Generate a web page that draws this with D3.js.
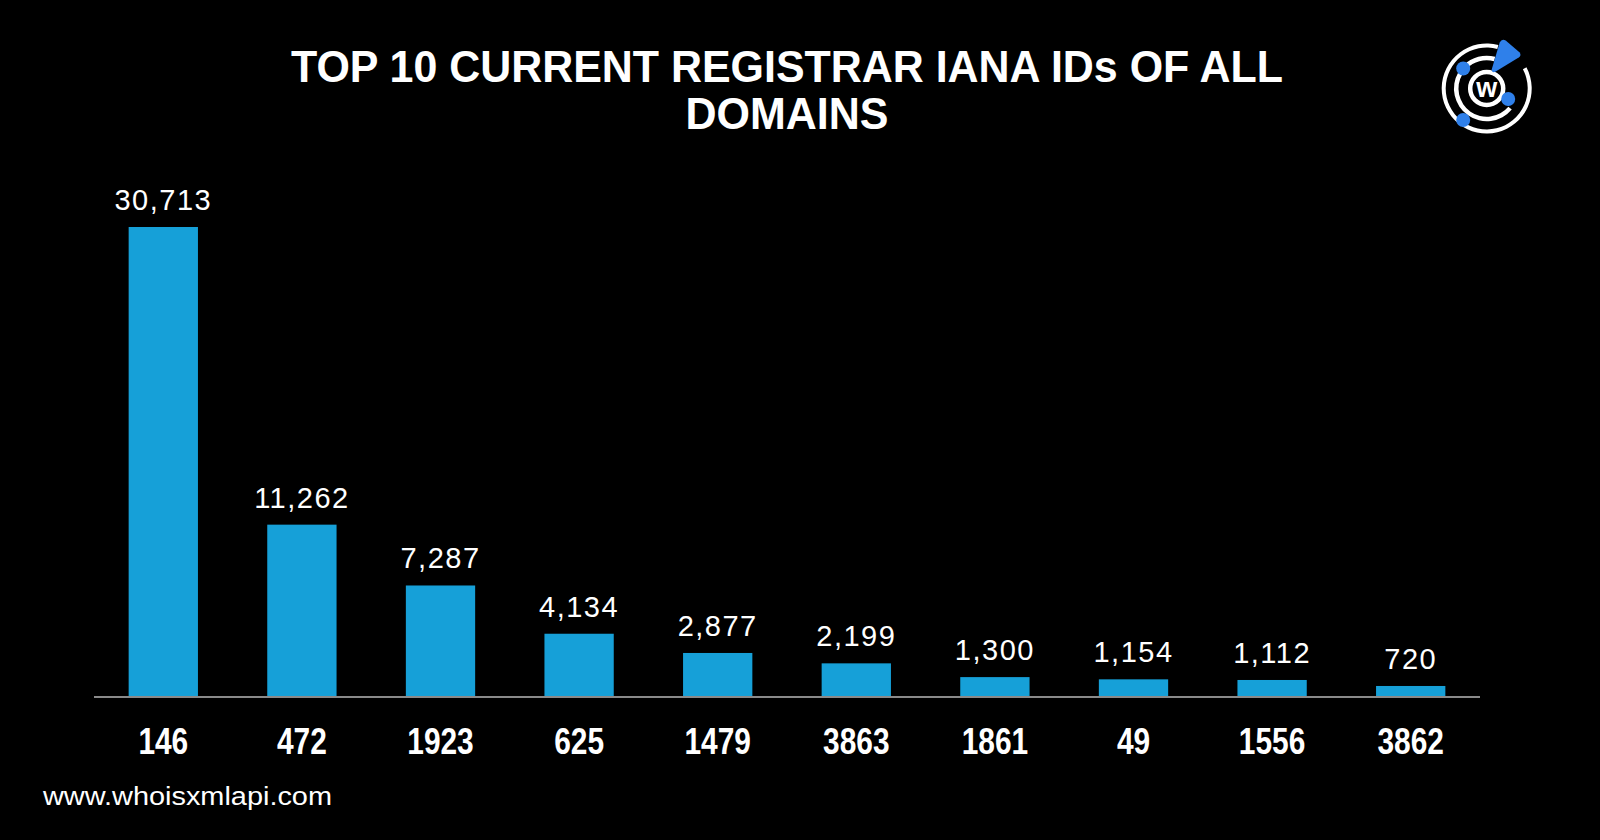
<!DOCTYPE html>
<html>
<head>
<meta charset="utf-8">
<script src="https://cdn.jsdelivr.net/npm/d3@7"></script>
<style>
  html, body { margin: 0; padding: 0; background: #000; }
  svg { display: block; }
</style>
</head>
<body>
<svg id="chart" width="1600" height="840"></svg>
<script>
const categories = ["146", "472", "1923", "625", "1479", "3863", "1861", "49", "1556", "3862"];
const values = [30713, 11262, 7287, 4134, 2877, 2199, 1300, 1154, 1112, 720];
const titleLines = ["TOP 10 CURRENT REGISTRAR IANA IDs OF ALL", "DOMAINS"];
const footerText = "www.whoisxmlapi.com";

const data = categories.map((c, i) => ({ cat: c, val: values[i] }));
const svg = d3.select("#chart");
svg.append("rect").attr("width", 1600).attr("height", 840).attr("fill", "#000");

const x = d3.scaleBand().domain(categories).range([94, 1480]).paddingInner(0.5).paddingOuter(0.25);
const y = d3.scaleLinear().domain([0, d3.max(values)]).range([697, 227]);

// bars
svg.append("g").selectAll("rect").data(data).join("rect")
  .attr("x", d => x(d.cat))
  .attr("y", d => y(d.val))
  .attr("width", x.bandwidth())
  .attr("height", d => y(0) - y(d.val))
  .attr("fill", "#16a0d8");

// baseline axis
const axis = svg.append("g").attr("transform", `translate(0,${y(0)})`)
  .call(d3.axisBottom(x).tickSize(0).tickPadding(40));
axis.select(".domain").attr("stroke", "#8a8a8a").attr("stroke-width", 2)
  .attr("d", `M94,0H1480`);
axis.selectAll(".tick text")
  .attr("fill", "#fff")
  .attr("font-family", "'Liberation Sans', Arial, sans-serif")
  .attr("font-weight", "bold")
  .attr("font-size", 36)
  .attr("dy", "0.72em")
  .attr("y", 31)
  .each(function () {
    const w = this.getComputedTextLength();
    d3.select(this).attr("textLength", w * 0.83).attr("lengthAdjust", "spacingAndGlyphs");
  });

// value labels
svg.append("g").selectAll("text").data(data).join("text")
  .attr("x", d => x(d.cat) + x.bandwidth() / 2)
  .attr("y", d => y(d.val) - 17)
  .attr("text-anchor", "middle")
  .attr("fill", "#fff")
  .attr("font-family", "'Liberation Sans', Arial, sans-serif")
  .attr("font-size", 29)
  .attr("letter-spacing", 1.5)
  .text(d => d3.format(",")(d.val));

// title
const title = svg.append("g");
title.append("text")
  .attr("x", 787).attr("y", 82)
  .attr("text-anchor", "middle")
  .attr("fill", "#fff")
  .attr("font-family", "'Liberation Sans', Arial, sans-serif")
  .attr("font-weight", "bold")
  .attr("font-size", 45)
  .attr("textLength", 992).attr("lengthAdjust", "spacingAndGlyphs")
  .text(titleLines[0]);
title.append("text")
  .attr("x", 787).attr("y", 129)
  .attr("text-anchor", "middle")
  .attr("fill", "#fff")
  .attr("font-family", "'Liberation Sans', Arial, sans-serif")
  .attr("font-weight", "bold")
  .attr("font-size", 45)
  .attr("textLength", 203).attr("lengthAdjust", "spacingAndGlyphs")
  .text(titleLines[1]);

// footer
svg.append("text")
  .attr("x", 43).attr("y", 805)
  .attr("fill", "#fff")
  .attr("font-family", "'Liberation Sans', Arial, sans-serif")
  .attr("font-size", 26)
  .attr("textLength", 289).attr("lengthAdjust", "spacingAndGlyphs")
  .text(footerText);

// logo
const logo = svg.append("g").attr("transform", "translate(1486.7,88.5)");
const blue = "#2f80ea";
const arc = d3.arc();
const deg = Math.PI / 180;
function ring(r, a0, a1, w) {
  logo.append("path")
    .attr("d", arc({ innerRadius: r - w / 2, outerRadius: r + w / 2, startAngle: a0 * deg, endAngle: a1 * deg }))
    .attr("fill", "#fff");
}
ring(43, 62, 375, 4);
ring(30.5, 130, 300, 4.5);
ring(30.5, -45, 15, 4.5);
ring(16.5, 0, 360, 4.5);
logo.append("text").attr("x", 0).attr("y", 8).attr("text-anchor", "middle")
  .attr("fill", "#fff").attr("font-family", "'Liberation Sans', Arial, sans-serif")
  .attr("font-weight", "bold").attr("font-size", 27).text("w");
logo.append("path").attr("d", "M13,-46 Q15,-50 19,-48 L33,-36 Q35,-33 32,-31 L9,-17 Q5,-15 5,-19 Z").attr("fill", blue);
[[-23.5, -20], [21.5, 10.5], [-23.5, 31.5]].forEach(p => {
  logo.append("circle").attr("cx", p[0]).attr("cy", p[1]).attr("r", 7).attr("fill", blue);
});
</script>
</body>
</html>
